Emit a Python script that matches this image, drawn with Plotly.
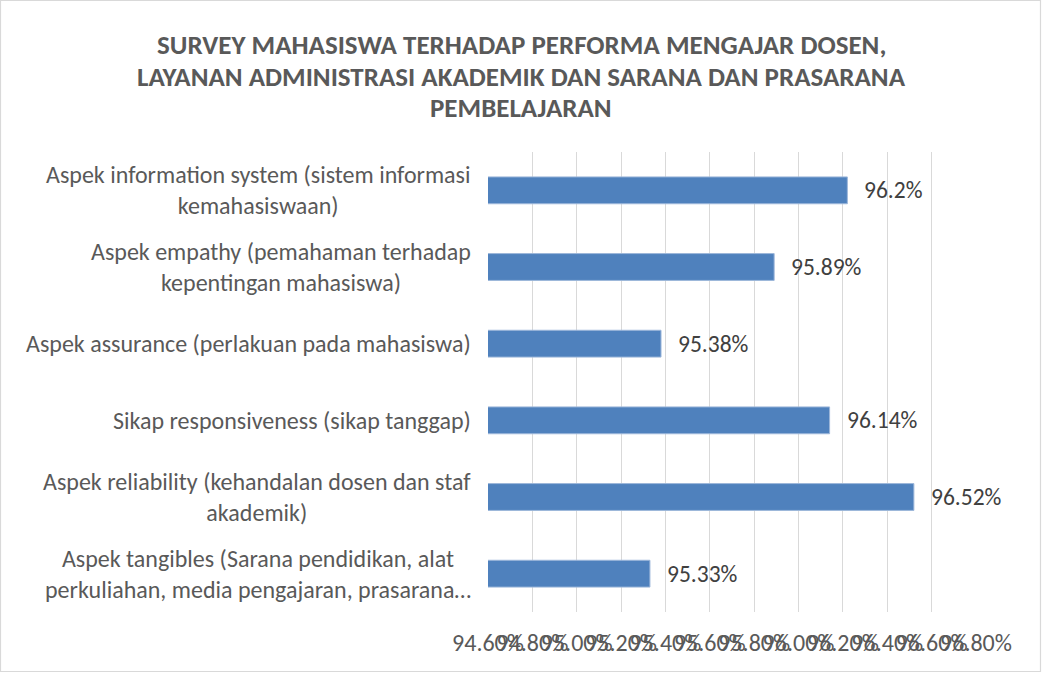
import plotly.graph_objects as go

categories = [
    "Aspek tangibles (Sarana pendidikan, alat<br>perkuliahan, media pengajaran, prasarana…",
    "Aspek reliability (kehandalan dosen dan staf<br>akademik)",
    "Sikap responsiveness (sikap tanggap)",
    "Aspek assurance (perlakuan pada mahasiswa)",
    "Aspek empathy (pemahaman terhadap<br>kepentingan mahasiswa)",
    "Aspek information system (sistem informasi<br>kemahasiswaan)",
]
values = [95.33, 96.52, 96.14, 95.38, 95.89, 96.22]
value_labels = ["95.33%", "96.52%", "96.14%", "95.38%", "95.89%", "96.2%"]
tick_values = [94.6, 94.8, 95.0, 95.2, 95.4, 95.6, 95.8, 96.0, 96.2, 96.4, 96.6, 96.8]
tick_labels = ["94.60%", "94.80%", "95.00%", "95.20%", "95.40%", "95.60%",
               "95.80%", "96.00%", "96.20%", "96.40%", "96.60%", "96.80%"]

title_lines = [
    "SURVEY MAHASISWA TERHADAP PERFORMA MENGAJAR DOSEN,",
    "LAYANAN ADMINISTRASI AKADEMIK DAN SARANA DAN PRASARANA",
    "PEMBELAJARAN",
]
title_y_px = [45, 76, 107]

FONT = "Carlito, Calibri, Lato, sans-serif"
GRAY = "#595959"

W, H = 1042, 673
ML, MR, MT, MB = 488, 66, 152, 61
PW, PH = W - ML - MR, H - MT - MB

fig = go.Figure()
fig.add_trace(go.Bar(
    y=categories, x=values, orientation="h",
    marker=dict(color="#4F81BD", line=dict(color="#9DB7DA", width=1)),
    width=0.35, cliponaxis=False, hoverinfo="skip",
))

for c, v, t in zip(categories, values, value_labels):
    fig.add_annotation(x=v, y=c, xref="x", yref="y", text=t, showarrow=False,
                       xanchor="left", xshift=15,
                       font=dict(family=FONT, size=23.5, color="#404040"))
    fig.add_annotation(x=0, y=c, xref="paper", yref="y", text=c, showarrow=False,
                       xanchor="right", align="center", xshift=-15,
                       font=dict(family=FONT, size=24, color=GRAY))

for line, ypx in zip(title_lines, title_y_px):
    fig.add_annotation(x=0.5, xref="paper", y=(H - MB - ypx) / PH, yref="paper",
                       xanchor="center", yanchor="middle", showarrow=False,
                       text=line, xshift=(W / 2 - (ML + PW / 2)),
                       font=dict(family=FONT, size=27, color=GRAY, weight="bold"))

fig.update_layout(
    width=W, height=H,
    margin=dict(l=ML, r=MR, t=MT, b=MB),
    paper_bgcolor="white", plot_bgcolor="white",
    showlegend=False,
    xaxis=dict(range=[94.6, 96.8], tickvals=tick_values, ticktext=tick_labels,
               tickangle=0, showgrid=True, gridcolor="#D9D9D9", gridwidth=1.3,
               zeroline=False, showline=False, ticks="", ticklabelstandoff=14,
               tickfont=dict(family=FONT, size=24, color=GRAY)),
    yaxis=dict(showticklabels=False, showgrid=False, zeroline=False,
               categoryorder="array", categoryarray=categories),
    shapes=[dict(type="rect", xref="paper", yref="paper",
                 x0=-(ML - 0.5) / PW, x1=1 + (MR - 1.5) / PW,
                 y0=-(MB - 1.5) / PH, y1=1 + (MT - 0.5) / PH,
                 line=dict(color="#D9D9D9", width=1.2))],
)

fig.write_html("out.html", config={"displayModeBar": False},
               post_script="document.body.style.margin='0px';")
